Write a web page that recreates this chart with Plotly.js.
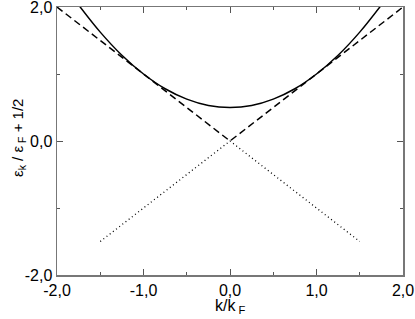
<!DOCTYPE html>
<html>
<head>
<meta charset="utf-8">
<script src="https://cdn.plot.ly/plotly-3.0.1.min.js"></script>
<style>
  html, body { margin: 0; padding: 0; background: #fff; }
  #plot { width: 415px; height: 319px; }
</style>
</head>
<body>
<div id="plot"></div>
<script>
// dispersion curve (solid)
let kCurve = [-1.75, -1.5, -1.25, -1.0, -0.75, -0.5, -0.25, 0, 0.25, 0.5, 0.75, 1.0, 1.25, 1.5, 1.75];
let eCurve = [2.03, 1.625, 1.28, 1.0, 0.78, 0.625, 0.53, 0.5, 0.53, 0.625, 0.78, 1.0, 1.28, 1.625, 2.03];

// asymptotes (dashed)
let kDash = [-2.0, 0, 2.0];
let eDash = [2.0, 0, 2.0];

// continuation below zero (dotted)
let kDot = [-1.5, 0, 1.5];
let eDot = [-1.5, 0, -1.5];

// tick labels (plain hyphen, comma decimal)
let xTickVals = [-2, -1, 0, 1, 2];
let xTickText = ['-2,0', '-1,0', '0,0', '1,0', '2,0'];
let yTickVals = [-2, 0, 2];
let yTickText = ['-2,0', '0,0', '2,0'];

let data = [
  {x: kCurve, y: eCurve, type: 'scatter', mode: 'lines',
   line: {color: '#000', width: 1.5, shape: 'spline'}},
  {x: kDash, y: eDash, type: 'scatter', mode: 'lines',
   line: {color: '#000', width: 1.5, dash: '7px,4px'}},
  {x: kDot, y: eDot, type: 'scatter', mode: 'lines',
   line: {color: '#000', width: 1.3, dash: '1px,3px'}}
];

let fontFam = 'Liberation Sans, Arial, sans-serif';

let axisStyle = {
  showgrid: false, zeroline: false,
  showline: true, linecolor: '#777', linewidth: 1.5,
  mirror: 'ticks', ticks: 'inside', ticklen: 6, tickcolor: '#555', tickwidth: 1,
  range: [-2, 2], tickmode: 'array', ticklabeloverflow: 'allow',
  tickfont: {family: fontFam, size: 16, color: '#000'}
};

let layout = {
  width: 415, height: 319,
  margin: {l: 57, r: 12, t: 7, b: 44},
  paper_bgcolor: '#fff', plot_bgcolor: '#fff',
  showlegend: false,
  font: {family: fontFam, size: 14, color: '#000'},
  xaxis: Object.assign({}, axisStyle, {
    tickvals: xTickVals, ticktext: xTickText,
    minor: {tickmode: 'linear', tick0: -2, dtick: 0.5, ticks: 'inside', ticklen: 3, tickcolor: '#555'}
  }),
  yaxis: Object.assign({}, axisStyle, {
    tickvals: yTickVals, ticktext: yTickText,
    minor: {tickmode: 'linear', tick0: -2, dtick: 1, ticks: 'inside', ticklen: 3, tickcolor: '#555'}
  }),
  // axis titles placed as annotations for finer positioning
  annotations: [
    {text: 'k/k<sub> F</sub>', xref: 'paper', yref: 'paper', x: 0.5, y: 0,
     xanchor: 'center', yanchor: 'middle', yshift: -31, showarrow: false,
     font: {family: fontFam, size: 16, color: '#000'}},
    {text: 'ε<sub>k</sub> / ε<sub> F</sub> + 1/2', xref: 'paper', yref: 'paper', x: 0, y: 0.5,
     xanchor: 'center', yanchor: 'middle', xshift: -39, yshift: 3, textangle: -90,
     showarrow: false, font: {family: fontFam, size: 15, color: '#000'}}
  ]
};

Plotly.newPlot('plot', data, layout, {staticPlot: true});
</script>
</body>
</html>
